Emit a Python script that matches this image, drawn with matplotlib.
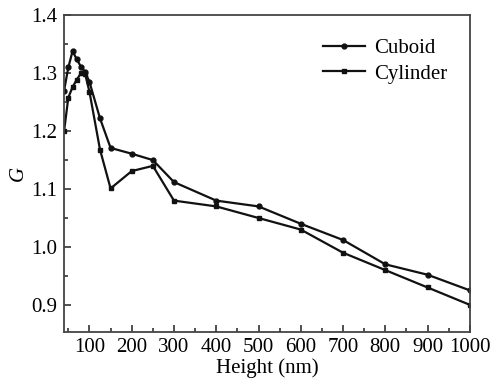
import matplotlib
matplotlib.use('Agg')
import matplotlib.pyplot as plt
from matplotlib.ticker import MultipleLocator

plt.rcParams['font.family'] = 'Liberation Serif'
plt.rcParams['font.size'] = 15

height_cub = [40, 50, 60, 70, 80, 90, 100, 125, 150, 200, 250, 300, 400, 500, 600, 700, 800, 900, 1000]
g_cub = [1.27, 1.31, 1.338, 1.324, 1.311, 1.302, 1.285, 1.222, 1.171, 1.161, 1.15, 1.112,
         1.08, 1.07, 1.04, 1.012, 0.97, 0.952, 0.925]

height_cyl = [40, 50, 60, 70, 80, 90, 100, 125, 150, 200, 250, 300, 400, 500, 600, 700, 800, 900, 1000]
g_cyl = [1.2, 1.258, 1.276, 1.289, 1.30, 1.298, 1.268, 1.168, 1.101, 1.131, 1.14, 1.08,
         1.07, 1.05, 1.03, 0.99, 0.96, 0.93, 0.90]

fig = plt.figure(figsize=(4.93, 3.83), dpi=100)
ax = fig.add_axes([0.13, 0.133, 0.823, 0.827])

ax.plot(height_cub, g_cub, '-o', color='#111111', lw=1.6, ms=3.5, label='Cuboid')
ax.plot(height_cyl, g_cyl, '-s', color='#111111', lw=1.6, ms=3.5, label='Cylinder')

ax.set_xlim(40, 1000)
ax.set_ylim(0.853, 1.4)
ax.xaxis.set_major_locator(MultipleLocator(100))
ax.xaxis.set_minor_locator(MultipleLocator(50))
ax.yaxis.set_major_locator(MultipleLocator(0.1))
ax.yaxis.set_minor_locator(MultipleLocator(0.05))
ax.tick_params(which='both', direction='in', top=False, right=False, width=1.2, color='#333333')
ax.tick_params(which='major', length=5)
ax.tick_params(which='minor', length=3)
ax.tick_params(axis='x', pad=4)
ax.tick_params(axis='y', pad=5)
for s in ax.spines.values():
    s.set_linewidth(1.3)
    s.set_color('#444444')

ax.set_xlabel('Height (nm)', labelpad=1)
ax.set_ylabel('G', style='italic', labelpad=2)

ax.legend(loc='upper left', bbox_to_anchor=(0.655, 0.9), bbox_transform=fig.transFigure,
          frameon=False, borderpad=0, borderaxespad=0,
          handlelength=2.0, handletextpad=0.45, labelspacing=0.3)

fig.savefig('out.png', dpi=100)
